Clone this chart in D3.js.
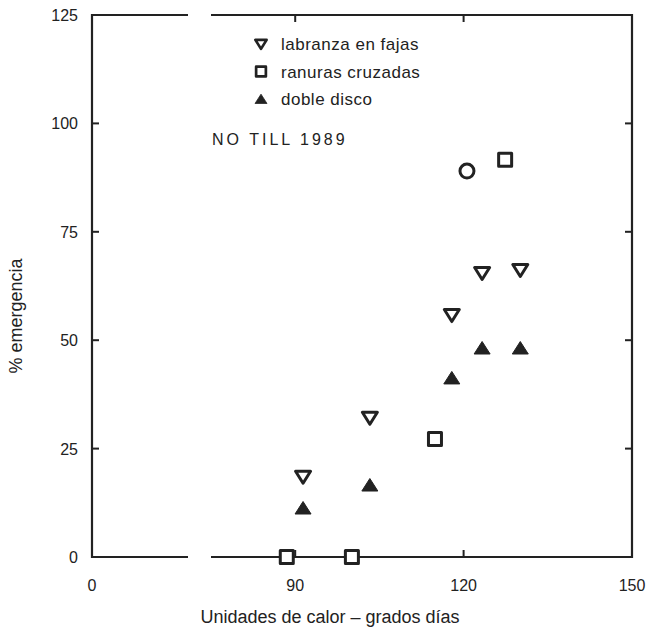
<!DOCTYPE html>
<html>
<head>
<meta charset="utf-8">
<script src="https://cdn.jsdelivr.net/npm/d3@7"></script>
<style>
  html, body { margin: 0; padding: 0; background: #fff; }
  svg text { font-family: "Liberation Sans", Arial, sans-serif; fill: #222; }
</style>
</head>
<body>
<svg id="chart" width="646" height="629"></svg>
<script>
// Heat units (degree days) and emergence (%) by planting equipment, no-till 1989
const series = ["labranza en fajas", "ranuras cruzadas", "doble disco"];
const fajasX   = [91.4, 103.3, 117.9, 123.3, 130.1];
const fajasY   = [18.5, 32.1, 55.8, 65.5, 66.2];
const ranurasX = [88.5, 100.1, 114.9, 127.4];
const ranurasY = [0, 0, 27.2, 91.6];
const circuloX = [120.6];
const circuloY = [89.0];
const discoX   = [91.4, 103.3, 117.9, 123.3, 130.1];
const discoY   = [11.3, 16.6, 41.3, 48.2, 48.2];
const xTicks = [90, 120, 150];
const yTicks = [0, 25, 50, 75, 100, 125];

const svg = d3.select("#chart");
const pLeft = 92, pRight = 632, pTop = 15, pBottom = 557;
const breakL = 188, breakR = 211;

// broken x-axis: 0 sits alone on the left, the data run from 75 to 150
const x = d3.scaleLinear().domain([75, 150]).range([breakR, pRight]);
const x0 = d3.scaleLinear().domain([0, 15]).range([pLeft, breakL]);
const y = d3.scaleLinear().domain([0, 125]).range([pBottom, pTop]);

const ink = "#222";
const g = svg.append("g");

// frame
g.append("path").attr("fill", "none").attr("stroke", ink).attr("stroke-width", 2.2)
  .attr("d", `M${breakL},${pTop}H${pLeft}V${pBottom}H${breakL}`);
g.append("path").attr("fill", "none").attr("stroke", ink).attr("stroke-width", 2.2)
  .attr("d", `M${breakR},${pTop}H${pRight}V${pBottom}H${breakR}`);

// inward tick marks
const tl = 7;
yTicks.filter(d => d > 0 && d < 125).forEach(d => {
  g.append("line").attr("x1", pLeft).attr("x2", pLeft + tl).attr("y1", y(d)).attr("y2", y(d))
    .attr("stroke", ink).attr("stroke-width", 2);
  g.append("line").attr("x1", pRight).attr("x2", pRight - tl).attr("y1", y(d)).attr("y2", y(d))
    .attr("stroke", ink).attr("stroke-width", 2);
});
xTicks.filter(d => d < 150).forEach(d => {
  g.append("line").attr("x1", x(d)).attr("x2", x(d)).attr("y1", pTop).attr("y2", pTop + tl)
    .attr("stroke", ink).attr("stroke-width", 2);
  g.append("line").attr("x1", x(d)).attr("x2", x(d)).attr("y1", pBottom).attr("y2", pBottom - tl)
    .attr("stroke", ink).attr("stroke-width", 2);
});

// tick labels
svg.selectAll(".ylab").data(yTicks).join("text")
  .attr("x", 78).attr("y", d => y(d) + 6)
  .attr("text-anchor", "end").attr("font-size", 16).text(d => d);
svg.append("text").attr("x", x0(0)).attr("y", 591)
  .attr("text-anchor", "middle").attr("font-size", 16).text("0");
svg.selectAll(".xlab").data(xTicks).join("text")
  .attr("x", d => x(d)).attr("y", 591)
  .attr("text-anchor", "middle").attr("font-size", 16).text(d => d);

// axis titles
svg.append("text").attr("x", 330).attr("y", 623).attr("text-anchor", "middle")
  .attr("font-size", 18).text("Unidades de calor – grados días");
svg.append("text").attr("transform", "translate(22,316) rotate(-90)")
  .attr("text-anchor", "middle").attr("font-size", 18).text("% emergencia");

// marker shapes
const invTri = "M-7.5,-5.5L7.5,-5.5L0,6.5Z";
const upTri = "M-8,6L8,6L0,-6.5Z";
const sq = "M-6.5,-6.5H6.5V6.5H-6.5Z";

function points(xs, ys, shape, filled) {
  g.append("g").selectAll("path").data(xs.map((v, i) => [v, ys[i]])).join("path")
    .attr("d", shape)
    .attr("transform", d => `translate(${x(d[0])},${y(d[1])})`)
    .attr("fill", filled ? ink : "#fff").attr("stroke", ink)
    .attr("stroke-width", filled ? 1 : 3).attr("stroke-linejoin", "round");
}
points(fajasX, fajasY, invTri, false);
points(ranurasX, ranurasY, sq, false);
points(discoX, discoY, upTri, true);
g.append("g").selectAll("circle").data(circuloX.map((v, i) => [v, circuloY[i]])).join("circle")
  .attr("cx", d => x(d[0])).attr("cy", d => y(d[1])).attr("r", 7)
  .attr("fill", "#fff").attr("stroke", ink).attr("stroke-width", 3);

// legend
const shapes = [invTri, sq, upTri];
const fills = [false, false, true];
const leg = svg.append("g");
series.forEach((s, i) => {
  const cy = 44 + i * 27.5;
  leg.append("path").attr("d", shapes[i])
    .attr("transform", `translate(261,${cy}) scale(0.75)`)
    .attr("fill", fills[i] ? ink : "#fff").attr("stroke", ink)
    .attr("stroke-width", fills[i] ? 1 : 3.6).attr("stroke-linejoin", "round");
  leg.append("text").attr("x", 281).attr("y", cy + 6).attr("font-size", 17)
    .attr("letter-spacing", 0.5).text(s);
});
svg.append("text").attr("x", 212).attr("y", 145).attr("font-size", 16)
  .attr("letter-spacing", 3).text("NO TILL 1989");
</script>
</body>
</html>
